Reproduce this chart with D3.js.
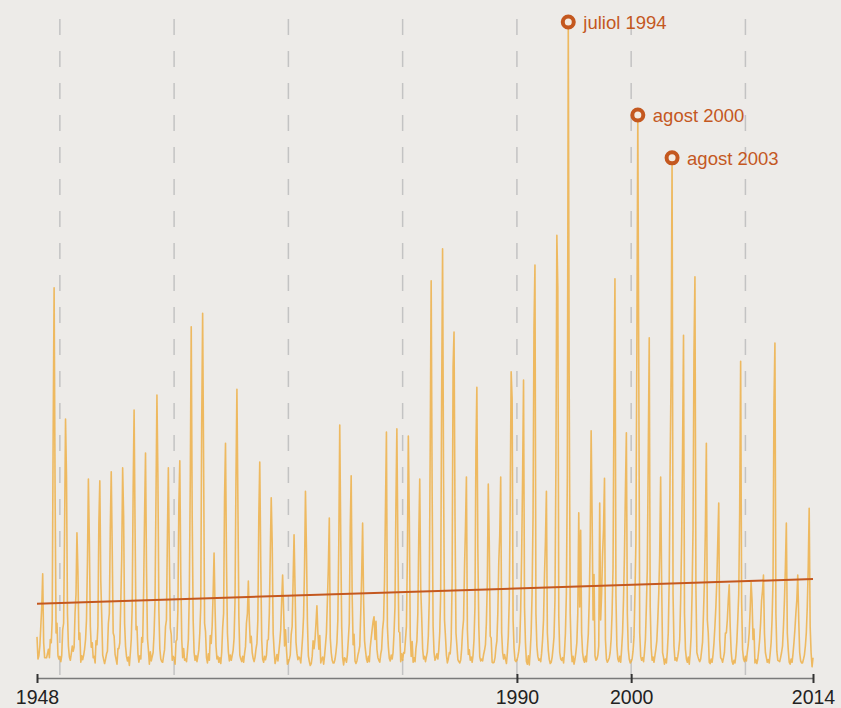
<!DOCTYPE html>
<html>
<head>
<meta charset="utf-8">
<script src="https://cdn.jsdelivr.net/npm/d3@7"></script>
<style>
  body { margin: 0; background: #edebe8; }
  svg { display: block; }
  text { font-family: "Liberation Sans", Arial, Helvetica, sans-serif; }
</style>
</head>
<body>
<svg id="chart" width="841" height="708"></svg>
<script>
/*
 * Monthly series 1948-2015, one row per year (Jan..Dec), with a linear trend
 * and three labelled peaks.
 */

var startYear = 1948;

var monthlyValues = [
  [5.4, 2.0, 2.5, 4.0, 7.0, 10.0, 15.1, 4.5, 2.2, 2.2, 2.2, 2.8],    // 1948
  [3.5, 2.2, 5.0, 4.5, 8.0, 36.8, 59.1, 28.0, 6.0, 7.5, 2.5, 2.0],
  [2.4, 1.6, 2.5, 6.5, 7.5, 22.0, 38.9, 30.0, 9.0, 4.0, 2.3, 1.8],   // 1950
  [2.8, 4.0, 3.2, 3.8, 9.0, 12.0, 21.4, 15.5, 5.0, 6.0, 1.5, 2.5],
  [1.9, 2.6, 3.5, 5.0, 8.0, 17.0, 29.7, 20.0, 7.0, 3.8, 4.5, 2.2],
  [2.4, 1.4, 4.8, 4.2, 7.0, 23.0, 29.4, 14.0, 8.5, 2.6, 1.9, 1.3],
  [2.0, 2.8, 3.2, 7.5, 9.0, 22.0, 30.8, 19.0, 6.0, 5.5, 2.7, 2.0],
  [1.2, 3.6, 3.6, 4.5, 10.5, 17.5, 31.4, 24.0, 7.5, 4.0, 2.4, 1.7],
  [2.3, 1.0, 2.8, 5.0, 10.0, 28.0, 40.3, 22.0, 6.5, 7.0, 2.8, 1.5],
  [2.5, 2.0, 5.3, 4.6, 12.5, 24.0, 33.7, 16.0, 5.2, 3.4, 1.2, 3.1],
  [1.7, 2.4, 3.0, 6.0, 11.0, 27.0, 42.6, 30.0, 9.5, 3.6, 2.0, 1.6],
  [1.5, 2.6, 3.4, 7.0, 8.0, 21.0, 31.4, 18.0, 6.8, 5.8, 1.8, 2.4],
  [2.2, 1.2, 4.7, 5.0, 9.5, 26.0, 32.5, 15.0, 5.0, 2.2, 3.6, 1.8],   // 1960
  [2.0, 1.6, 3.1, 5.0, 12.0, 29.5, 53.1, 24.0, 8.0, 3.0, 1.8, 2.5],
  [1.6, 2.5, 3.4, 6.0, 10.0, 38.3, 55.2, 32.0, 7.5, 6.2, 2.2, 1.4],
  [2.8, 1.8, 5.6, 4.4, 7.0, 12.0, 18.3, 10.0, 4.0, 2.0, 2.4, 1.5],
  [2.2, 1.3, 3.0, 6.8, 9.0, 27.0, 35.2, 17.0, 6.0, 3.1, 1.7, 2.6],
  [1.8, 2.6, 3.3, 5.2, 11.0, 30.0, 43.5, 26.0, 8.5, 2.6, 2.0, 1.6],
  [2.4, 1.5, 2.8, 3.9, 7.5, 9.0, 14.0, 8.0, 4.5, 5.5, 3.0, 2.1],
  [1.6, 2.3, 3.5, 4.4, 8.0, 24.0, 32.3, 17.0, 5.0, 2.0, 1.5, 2.4],
  [1.9, 2.6, 4.9, 5.0, 9.0, 18.0, 26.8, 20.0, 6.0, 3.4, 1.3, 1.9],
  [2.7, 1.7, 3.1, 4.6, 6.5, 11.0, 14.9, 9.5, 4.0, 6.5, 3.5, 1.2],
  [1.5, 2.0, 2.6, 5.8, 7.0, 14.0, 21.1, 13.0, 4.6, 2.9, 1.9, 2.3],   // 1970
  [2.1, 1.4, 3.2, 5.4, 8.5, 16.0, 27.8, 19.0, 7.8, 2.5, 1.6, 1.0],
  [1.3, 2.4, 4.8, 3.6, 5.0, 7.5, 10.2, 6.0, 3.5, 5.6, 1.4, 2.0],
  [2.3, 1.2, 2.4, 4.2, 6.0, 11.0, 16.0, 23.7, 5.2, 3.0, 1.8, 1.4],
  [1.4, 2.0, 3.0, 4.5, 8.0, 20.0, 38.0, 21.0, 7.0, 2.2, 1.1, 2.2],
  [2.0, 1.5, 2.6, 5.0, 7.5, 22.0, 30.2, 12.0, 4.2, 5.8, 1.7, 1.3],
  [1.7, 2.6, 3.2, 4.0, 9.0, 15.0, 22.9, 11.0, 4.8, 3.3, 2.0, 1.5],
  [2.4, 1.6, 3.8, 5.2, 6.5, 7.8, 8.5, 5.0, 7.8, 3.5, 2.2, 1.8],
  [1.5, 2.8, 3.5, 6.6, 8.0, 14.0, 25.0, 36.9, 7.0, 3.9, 2.1, 1.7],
  [2.6, 2.0, 3.0, 6.0, 10.0, 26.0, 37.4, 20.0, 6.2, 6.1, 1.6, 2.8],
  [1.8, 3.0, 2.9, 5.0, 7.0, 18.0, 36.3, 24.0, 5.5, 2.4, 4.7, 1.5],   // 1980
  [2.2, 1.6, 3.6, 4.8, 9.0, 21.0, 29.7, 13.0, 8.5, 3.6, 2.0, 2.4],
  [1.6, 2.4, 3.1, 5.5, 11.0, 35.0, 60.2, 28.0, 7.0, 3.0, 1.8, 2.2],
  [2.8, 2.0, 3.4, 6.0, 12.0, 42.0, 65.1, 30.0, 8.0, 5.5, 2.6, 1.4],
  [2.0, 3.0, 2.8, 5.0, 14.0, 47.0, 52.3, 24.0, 6.0, 4.0, 1.9, 1.6],
  [1.4, 1.9, 3.5, 6.4, 8.0, 16.0, 22.0, 30.0, 6.5, 2.7, 3.4, 1.8],
  [2.3, 1.5, 2.6, 5.0, 10.0, 34.0, 43.8, 19.0, 7.0, 2.3, 1.7, 2.0],
  [1.7, 2.7, 3.3, 4.2, 7.5, 14.0, 28.9, 20.0, 5.5, 5.2, 1.5, 1.4],
  [1.5, 2.2, 3.7, 4.8, 9.0, 17.0, 21.0, 30.0, 6.0, 3.0, 2.0, 2.7],
  [2.0, 1.3, 2.9, 5.5, 11.0, 26.0, 46.2, 42.0, 8.0, 3.7, 1.8, 1.6],
  [1.8, 2.4, 3.2, 4.6, 9.5, 18.0, 29.5, 44.9, 10.0, 4.5, 1.6, 1.2],  // 1990
  [2.5, 1.1, 3.0, 6.0, 12.0, 24.0, 53.0, 62.6, 9.0, 4.0, 2.4, 1.8],
  [2.0, 1.6, 2.9, 5.0, 8.0, 15.0, 20.0, 27.8, 6.0, 3.3, 1.9, 1.3],
  [1.5, 2.3, 3.6, 5.4, 11.0, 31.5, 67.2, 59.0, 8.5, 3.0, 2.0, 1.8],
  [2.2, 1.4, 3.0, 6.0, 12.0, 30.0, 100.0, 42.0, 9.0, 3.5, 1.6, 2.4],
  [1.2, 2.0, 3.0, 4.5, 9.0, 24.5, 10.0, 21.8, 6.0, 3.0, 1.9, 1.5],
  [2.4, 1.6, 3.6, 5.8, 11.0, 20.0, 37.1, 24.0, 8.0, 15.0, 2.5, 1.8],
  [2.0, 2.6, 4.0, 26.0, 8.0, 12.0, 18.0, 22.0, 29.8, 5.0, 2.0, 1.5],
  [1.8, 2.2, 3.0, 5.0, 9.0, 16.0, 42.0, 60.5, 12.0, 4.0, 2.0, 1.6],
  [2.4, 1.5, 3.4, 6.0, 11.0, 18.0, 27.5, 36.8, 9.0, 3.5, 2.0, 1.4],
  [1.6, 2.0, 3.2, 5.4, 12.0, 20.0, 49.0, 85.7, 46.0, 6.0, 2.4, 1.8], // 2000
  [2.2, 1.6, 3.0, 5.0, 10.0, 16.0, 33.7, 51.4, 10.0, 3.8, 1.8, 2.3],
  [1.5, 2.6, 3.5, 4.8, 8.0, 12.0, 18.0, 30.0, 14.0, 3.0, 2.2, 1.2],
  [2.0, 1.4, 3.0, 6.0, 14.0, 32.0, 46.0, 79.1, 12.0, 4.0, 1.8, 2.2],
  [1.7, 2.4, 3.4, 5.0, 11.0, 20.0, 33.7, 51.8, 9.0, 3.5, 2.0, 1.5],
  [2.3, 1.2, 2.8, 5.5, 12.0, 22.0, 49.0, 60.8, 13.0, 3.0, 2.4, 1.9],
  [1.6, 2.0, 3.2, 4.6, 9.0, 14.0, 22.0, 35.2, 8.0, 6.0, 1.5, 1.3],
  [2.0, 1.5, 2.6, 4.4, 7.0, 10.0, 14.0, 20.0, 26.0, 5.0, 2.2, 2.0],
  [1.5, 2.2, 3.0, 6.0, 6.0, 8.0, 11.0, 13.4, 7.0, 3.2, 1.6, 1.2],
  [1.8, 1.4, 2.5, 4.6, 8.0, 12.0, 24.5, 47.8, 11.0, 3.5, 2.0, 1.6],
  [2.4, 1.7, 3.0, 4.2, 6.0, 9.5, 13.8, 11.0, 5.0, 6.6, 1.4, 1.9],   // 2010
  [1.3, 2.0, 3.3, 5.0, 7.5, 11.0, 12.5, 14.9, 6.0, 3.0, 2.2, 1.5],
  [1.9, 1.4, 2.8, 4.5, 8.0, 14.0, 41.0, 50.6, 9.0, 3.2, 1.8, 1.7],
  [1.6, 2.3, 3.0, 4.0, 7.0, 11.0, 16.0, 22.9, 6.0, 3.4, 1.5, 1.2],
  [2.0, 1.5, 2.8, 4.5, 6.5, 9.0, 11.0, 14.9, 8.0, 3.0, 1.7, 1.4],
  [1.4, 2.0, 2.6, 4.0, 6.0, 10.0, 16.0, 25.2, 7.0, 3.0, 0.8, 2.2]    // 2015
];

// trend value at the first and last month
var trendValues = [10.5, 14.3];

var gridYears = [1950, 1960, 1970, 1980, 1990, 2000, 2010];
var tickDates = [new Date(1948, 0, 1), new Date(1990, 0, 1), new Date(2000, 0, 1), new Date(2015, 11, 1)];
var tickLabels = ['1948', '1990', '2000', '2014'];

var highlights = [
  {year: 1994, month: 6, label: 'juliol 1994'},
  {year: 2000, month: 7, label: 'agost 2000'},
  {year: 2003, month: 7, label: 'agost 2003'}
];

var lineColor = '#edb048';
var accent = '#c4581f';

var points = [];
monthlyValues.forEach(function(row, yi) {
  row.forEach(function(v, m) {
    points.push({date: new Date(startYear + yi, m, 1), value: v});
  });
});

var svg = d3.select('#chart');
var firstDate = points[0].date;
var lastDate = points[points.length - 1].date;

var x = d3.scaleTime().domain([firstDate, lastDate]).range([37, 813]);
var y = d3.scaleLinear().domain([0, 100]).range([672, 22]);
var axisY = 678;

svg.append('rect')
  .attr('width', 841)
  .attr('height', 708)
  .attr('fill', '#edebe8');

// dashed decade lines
svg.append('g').selectAll('line')
  .data(gridYears)
  .enter()
  .append('line')
    .attr('x1', function(d) { return x(new Date(d, 0, 1)); })
    .attr('x2', function(d) { return x(new Date(d, 0, 1)); })
    .attr('y1', 19)
    .attr('y2', axisY)
    .attr('stroke', '#c3c3c3')
    .attr('stroke-width', 1.5)
    .attr('stroke-dasharray', '16,16');

// the monthly series
var line = d3.line()
  .x(function(d) { return x(d.date); })
  .y(function(d) { return y(d.value); });

svg.append('path')
  .datum(points)
  .attr('d', line)
  .attr('fill', 'none')
  .attr('stroke', lineColor)
  .attr('stroke-opacity', 0.85)
  .attr('stroke-width', 1.6)
  .attr('stroke-linejoin', 'round');

// trend line
svg.append('line')
  .attr('x1', x(firstDate))
  .attr('x2', x(lastDate))
  .attr('y1', y(trendValues[0]))
  .attr('y2', y(trendValues[1]))
  .attr('stroke', accent)
  .attr('stroke-width', 2);

// X axis
var axis = svg.append('g')
  .attr('transform', 'translate(0, ' + axisY + ')')
  .call(d3.axisBottom(x)
    .tickValues(tickDates)
    .tickFormat(function(d, i) { return tickLabels[i]; })
    .tickSizeOuter(0));

axis.select('.domain')
  .attr('stroke', '#7a7a7a')
  .attr('stroke-width', 1.5);
axis.selectAll('.tick line')
  .attr('y1', -4)
  .attr('y2', 5)
  .attr('stroke', '#333')
  .attr('stroke-width', 2);
axis.selectAll('.tick text')
  .attr('y', 12)
  .attr('dy', '0.71em')
  .attr('font-size', 19.5)
  .attr('font-family', '"Liberation Sans", Arial, sans-serif')
  .attr('fill', '#222');

// labelled peaks
var marks = svg.append('g').selectAll('g')
  .data(highlights)
  .enter()
  .append('g')
    .attr('transform', function(d) {
      var p = points[(d.year - startYear) * 12 + d.month];
      return 'translate(' + x(p.date) + ', ' + y(p.value) + ')';
    });

marks.append('circle')
  .attr('r', 5.5)
  .attr('fill', '#f3ebe2')
  .attr('stroke', accent)
  .attr('stroke-width', 4);

marks.append('text')
  .attr('x', 15)
  .attr('dy', '0.36em')
  .attr('font-size', 18.5)
  .attr('fill', accent)
  .text(function(d) { return d.label; });
</script>
</body>
</html>
